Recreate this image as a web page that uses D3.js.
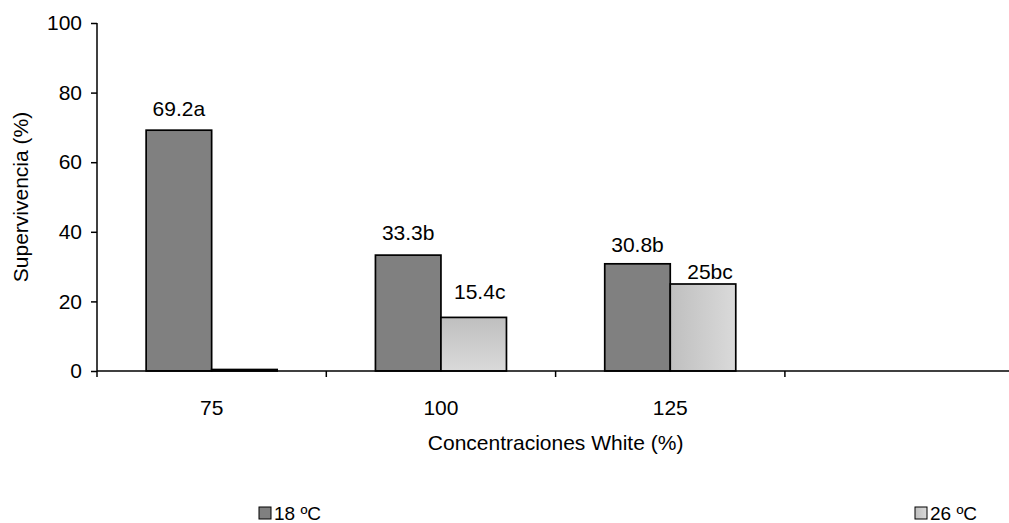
<!DOCTYPE html>
<html>
<head>
<meta charset="utf-8">
<script src="https://cdn.jsdelivr.net/npm/d3@7"></script>
<style>
  body { margin: 0; background: #fff; }
  svg { font-family: "Liberation Sans", Arial, sans-serif; }
</style>
</head>
<body>
<div id="chart"></div>
<script>
// data
var categories = ["75", "100", "125", ""];
var seriesNames = ["18 \u00baC", "26 \u00baC"];
var values18 = [69.2, 33.3, 30.8, null];
var values26 = [0, 15.4, 25, null];
var labels18 = ["69.2a", "33.3b", "30.8b", null];
var labels26 = [null, "15.4c", "25bc", null];
var yTicks = [0, 20, 40, 60, 80, 100];

var width = 1009, height = 523;
var margin = { left: 97, top: 23, bottom: 152 };
var fontSize = 21;

var svg = d3.select("#chart").append("svg")
  .attr("width", width)
  .attr("height", height);

var defs = svg.append("defs");
var gv = defs.append("linearGradient").attr("id", "gradV")
  .attr("x1", 0).attr("y1", 0).attr("x2", 0).attr("y2", 1);
gv.append("stop").attr("offset", "0%").attr("stop-color", "#bfbfbf");
gv.append("stop").attr("offset", "100%").attr("stop-color", "#dadada");
var gh = defs.append("linearGradient").attr("id", "gradH")
  .attr("x1", 0).attr("y1", 0).attr("x2", 1).attr("y2", 0);
gh.append("stop").attr("offset", "0%").attr("stop-color", "#bfbfbf");
gh.append("stop").attr("offset", "100%").attr("stop-color", "#dadada");

var plotH = height - margin.top - margin.bottom;
var bandW = 229.3;

var x = d3.scaleBand()
  .domain(d3.range(categories.length))
  .range([margin.left, margin.left + bandW * categories.length])
  .paddingInner(0).paddingOuter(0);

var y = d3.scaleLinear().domain([0, 100]).range([margin.top + plotH, margin.top]);

var barW = bandW / 3.5;

var rows = categories.map(function (c, i) {
  return { i: i, v18: values18[i], v26: values26[i], l18: labels18[i], l26: labels26[i] };
});

// label placement tweaks (the labels were nudged by hand in the original)
var fill26 = ["url(#gradV)", "url(#gradV)", "url(#gradH)", "url(#gradV)"];
var labelGap18 = [14, 15, 12, 0];
var labelGap26 = [0, 18, 5, 0];
var labelShift26 = [0, 6, 7, 0];

var gBars = svg.append("g");
rows.forEach(function (d) {
  var cx = x(d.i) + x.bandwidth() / 2;
  if (d.v18 != null) {
    gBars.append("rect")
      .attr("x", cx - barW).attr("width", barW)
      .attr("y", y(d.v18)).attr("height", y(0) - y(d.v18))
      .attr("fill", "#808080").attr("stroke", "#000").attr("stroke-width", 1.7);
  }
  if (d.v26 != null) {
    var h = Math.max(y(0) - y(d.v26), 1.5);
    gBars.append("rect")
      .attr("x", cx).attr("width", barW)
      .attr("y", y(0) - h).attr("height", h)
      .attr("fill", d.v26 === 0 ? "#000" : fill26[d.i])
      .attr("stroke", "#000").attr("stroke-width", 1.7);
  }
  if (d.l18) {
    gBars.append("text")
      .attr("x", cx - barW / 2).attr("y", y(d.v18) - labelGap18[d.i])
      .attr("text-anchor", "middle").attr("font-size", fontSize)
      .text(d.l18);
  }
  if (d.l26) {
    gBars.append("text")
      .attr("x", cx + barW / 2 + labelShift26[d.i]).attr("y", y(d.v26) - labelGap26[d.i])
      .attr("text-anchor", "middle").attr("font-size", fontSize)
      .text(d.l26);
  }
});

// y axis
var yAxis = d3.axisLeft(y).tickValues(yTicks).tickSize(6).tickPadding(9);
var gy = svg.append("g").attr("transform", "translate(" + margin.left + ",0)").call(yAxis);
gy.select(".domain").attr("d", "M0," + y(100) + "V" + y(0)).attr("stroke-width", 1.5);
gy.selectAll(".tick line").attr("stroke-width", 1.5);
gy.selectAll(".tick text").attr("font-size", fontSize).attr("font-family", "Liberation Sans, Arial, sans-serif").attr("fill", "#000");

// x axis
var gx = svg.append("g").attr("transform", "translate(0," + y(0) + ")");
gx.append("line").attr("x1", margin.left).attr("x2", width).attr("stroke", "#000").attr("stroke-width", 1.5);
d3.range(categories.length).forEach(function (i) {
  gx.append("line").attr("x1", x(i)).attr("x2", x(i)).attr("y1", 0).attr("y2", 6)
    .attr("stroke", "#000").attr("stroke-width", 1.5);
  if (categories[i]) {
    gx.append("text").attr("x", x(i) + x.bandwidth() / 2).attr("y", 44)
      .attr("text-anchor", "middle").attr("font-size", fontSize).text(categories[i]);
  }
});

// axis titles
svg.append("text")
  .attr("x", (margin.left + x.range()[1]) / 2).attr("y", 450)
  .attr("text-anchor", "middle").attr("font-size", fontSize)
  .text("Concentraciones White (%)");

svg.append("text")
  .attr("transform", "translate(28," + (margin.top + plotH / 2) + ") rotate(-90)")
  .attr("text-anchor", "middle").attr("font-size", fontSize)
  .text("Supervivencia (%)");

// legend
var legendX = [259, 915];
var legendFill = ["#808080", "url(#gradH)"];
seriesNames.forEach(function (name, i) {
  svg.append("rect").attr("x", legendX[i]).attr("y", 507).attr("width", 12).attr("height", 12)
    .attr("fill", legendFill[i]).attr("stroke", "#000").attr("stroke-width", 1);
  svg.append("text").attr("x", legendX[i] + 15).attr("y", 520)
    .attr("font-size", fontSize - 2).text(name);
});
</script>
</body>
</html>
